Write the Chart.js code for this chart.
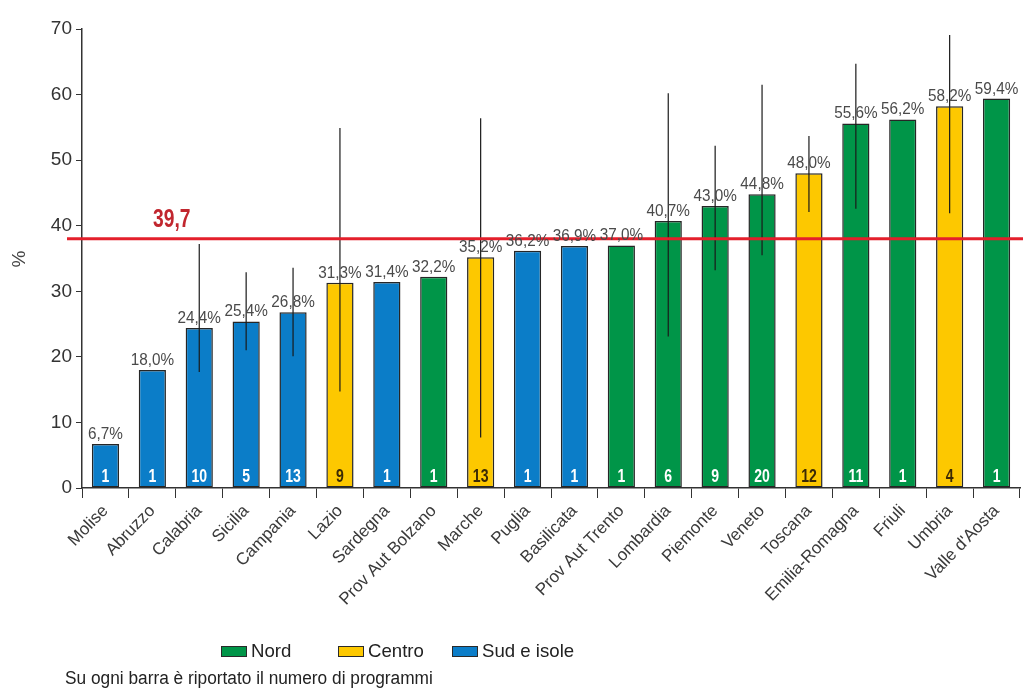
<!DOCTYPE html>
<html>
<head>
<meta charset="utf-8">
<script src="https://cdn.jsdelivr.net/npm/chart.js@4"></script>
<style>
  html, body { margin: 0; padding: 0; background: #fff; }
  #wrap { width: 1023px; height: 691px; position: relative; }
</style>
</head>
<body>
<div id="wrap"><canvas id="chart"></canvas></div>
<script>
const regions = ['Molise', 'Abruzzo', 'Calabria', 'Sicilia', 'Campania', 'Lazio', 'Sardegna', 'Prov Aut Bolzano',
  'Marche', 'Puglia', 'Basilicata', 'Prov Aut Trento', 'Lombardia', 'Piemonte', 'Veneto', 'Toscana',
  'Emilia-Romagna', 'Friuli', 'Umbria', "Valle d'Aosta"]
const area = ['S', 'S', 'S', 'S', 'S', 'C', 'S', 'N', 'C', 'S', 'S', 'N', 'N', 'N', 'N', 'C', 'N', 'N', 'C', 'N']
const percent = [6.7, 18.0, 24.4, 25.4, 26.8, 31.3, 31.4, 32.2, 35.2, 36.2, 36.9, 37.0, 40.7, 43.0, 44.8, 48.0, 55.6, 56.2, 58.2, 59.4]
const programmi = [1, 1, 10, 5, 13, 9, 1, 1, 13, 1, 1, 1, 6, 9, 20, 12, 11, 1, 4, 1]
const ciLow = [null, null, 17.7, 21.0, 20.1, 14.7, null, null, 7.7, null, null, null, 23.1, 33.2, 35.5, 42.1, 42.6, null, 41.9, null]
const ciHigh = [null, null, 37.2, 32.9, 33.6, 54.9, null, null, 56.4, null, null, null, 60.2, 52.2, 61.5, 53.7, 64.7, null, 69.1, null]
const yTicks = [0, 10, 20, 30, 40, 50, 60, 70]
const refLine = 38.0
const refLabel = '39,7'
const legendItems = [['N', 'Nord'], ['C', 'Centro'], ['S', 'Sud e isole']]
const note = 'Su ogni barra è riportato il numero di programmi'

const areaColors = { N: '#009548', C: '#fdc800', S: '#0b7dc8' }
const font = '"Liberation Sans", Arial, sans-serif'

const fmt = (v) => v.toFixed(1).replace('.', ',') + '%'

function drawText(ctx, text, x, y, f, color, sx, align) {
  ctx.save()
  ctx.font = f
  ctx.fillStyle = color
  ctx.textAlign = align || 'center'
  ctx.textBaseline = 'alphabetic'
  ctx.translate(x, y)
  ctx.scale(sx, 1)
  ctx.fillText(text, 0, 0)
  ctx.restore()
}

const extras = {
  id: 'extras',
  afterDatasetsDraw(chart) {
    const ctx = chart.ctx
    const x = chart.scales.x
    const y = chart.scales.y
    const meta = chart.getDatasetMeta(0)

    // error bars
    ctx.save()
    ctx.strokeStyle = '#1a1a1a'
    ctx.lineWidth = 1.2
    ciLow.forEach((lo, i) => {
      if (lo === null) return
      const px = x.getPixelForValue(i)
      ctx.beginPath()
      ctx.moveTo(px, y.getPixelForValue(lo))
      ctx.lineTo(px, y.getPixelForValue(ciHigh[i]))
      ctx.stroke()
    })
    ctx.restore()

    // reference line
    const ry = y.getPixelForValue(refLine)
    ctx.save()
    ctx.strokeStyle = '#e41f2b'
    ctx.lineWidth = 3
    ctx.beginPath()
    ctx.moveTo(67, ry)
    ctx.lineTo(chart.width, ry)
    ctx.stroke()
    ctx.restore()
    drawText(ctx, refLabel, 153, ry - 12, 'bold 25px ' + font, '#c1262e', 0.77, 'left')

    // value labels and counts
    meta.data.forEach((bar, i) => {
      drawText(ctx, fmt(percent[i]), bar.x, bar.y - 5, '17px ' + font, '#4a4a4a', 0.9)
      const c = area[i] === 'C' ? '#3b2a05' : '#ffffff'
      drawText(ctx, String(programmi[i]), bar.x, y.getPixelForValue(0) - 6, 'bold 18px ' + font, c, 0.78)
    })

    // y title
    ctx.save()
    ctx.translate(25, 259)
    ctx.rotate(-Math.PI / 2)
    ctx.font = '19px ' + font
    ctx.fillStyle = '#444'
    ctx.textAlign = 'center'
    ctx.fillText('%', 0, 0)
    ctx.restore()

    // legend
    const lx = [221, 338, 452]
    legendItems.forEach(([k, label], i) => {
      ctx.save()
      ctx.fillStyle = areaColors[k]
      ctx.fillRect(lx[i], 646, 25, 10)
      ctx.strokeStyle = '#2a2a2a'
      ctx.lineWidth = 1
      ctx.strokeRect(lx[i] + 0.5, 646.5, 25, 10)
      ctx.restore()
      drawText(ctx, label, lx[i] + 30, 657, '19px ' + font, '#222', 0.98, 'left')
    })
    drawText(ctx, note, 65, 684, '18px ' + font, '#222', 0.96, 'left')
  }
}

new Chart(document.getElementById('chart'), {
  type: 'bar',
  data: {
    labels: regions,
    datasets: [{
      data: percent,
      backgroundColor: area.map((a) => areaColors[a]),
      borderColor: '#262626',
      borderWidth: 1.5,
      borderSkipped: false,
      categoryPercentage: 1,
      barPercentage: 0.58,
    }],
  },
  options: {
    responsive: true,
    maintainAspectRatio: false,
    animation: false,
    layout: { padding: { top: 29, right: 3, left: 0, bottom: 0 } },
    plugins: {
      legend: { display: false },
      tooltip: { enabled: false },
    },
    scales: {
      x: {
        afterFit: (s) => { s.height = 203 },
        grid: { display: true, drawOnChartArea: false, offset: true, tickLength: 10, color: '#333', tickColor: '#333' },
        border: { display: true, color: '#333', width: 1.5 },
        ticks: {
          autoSkip: false,
          minRotation: 46,
          maxRotation: 46,
          padding: 3,
          color: '#3a3a3a',
          font: { family: font, size: 17 },
        },
      },
      y: {
        min: 0,
        max: 70,
        afterFit: (s) => { s.width = 82 },
        afterBuildTicks: (s) => { s.ticks = yTicks.map((v) => ({ value: v })) },
        grid: { display: true, drawOnChartArea: false, tickLength: 6, color: '#333', tickColor: '#333' },
        border: { display: true, color: '#333', width: 1.5 },
        ticks: {
          padding: 4,
          color: '#333',
          font: { family: font, size: 19 },
        },
      },
    },
  },
  plugins: [extras],
})
</script>
</body>
</html>
